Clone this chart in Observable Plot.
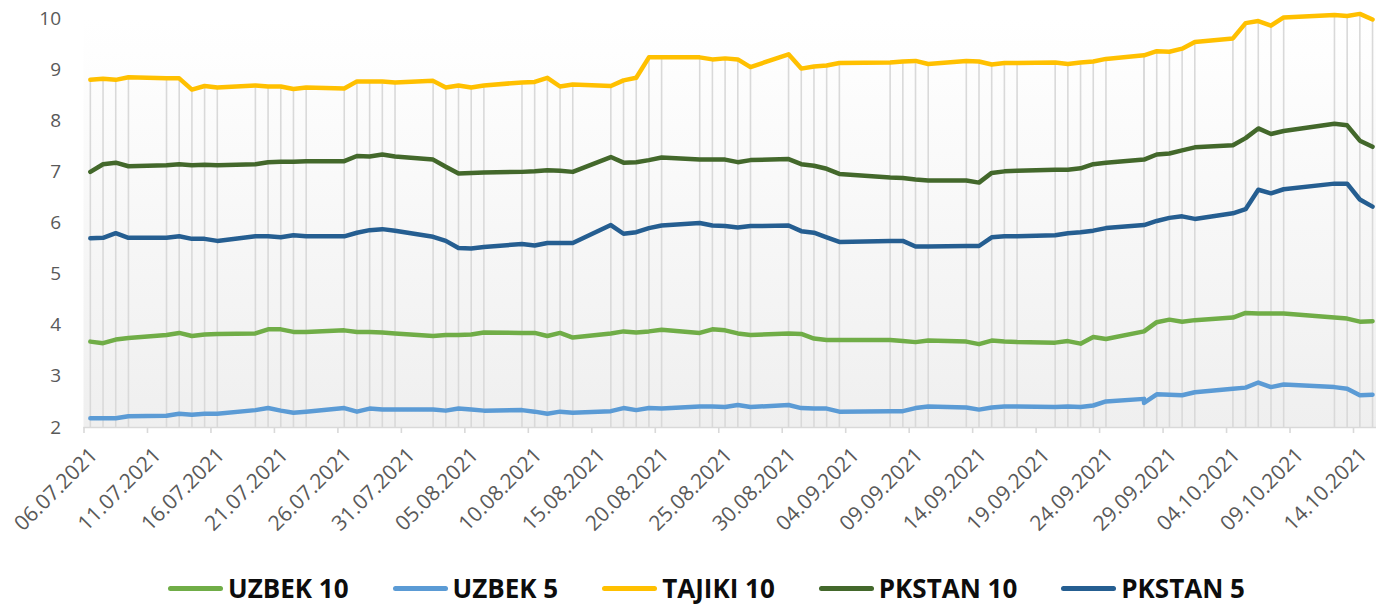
<!DOCTYPE html>
<html>
<head>
<meta charset="utf-8">
<script src="https://cdn.jsdelivr.net/npm/d3@7"></script>
<script src="https://cdn.jsdelivr.net/npm/@observablehq/plot@0.6"></script>
<style>
  html, body { margin: 0; padding: 0; background: #ffffff; overflow: hidden; }
  #wrap { position: relative; width: 1376px; height: 604px; }
  #legend {
    position: absolute; top: 572px; left: 0; width: 1376px; height: 32px;
    display: flex; align-items: center; justify-content: center;
    padding-left: 37px; box-sizing: border-box;
    font-family: "Open Sans", sans-serif; font-weight: 700; font-size: 26px; color: #0d0d0d;
  }
  .item { display: flex; align-items: center; margin: 0 22px; }
  .sw { width: 55px; height: 5px; border-radius: 3px; margin-right: 5px; }
</style>
</head>
<body>
<div id="wrap">
  <div id="chart"></div>
  <div id="legend"></div>
</div>
<script>
// ---- Data ----
const dates = [
  "06.07.2021","07.07.2021","08.07.2021","09.07.2021",
  "12.07.2021","13.07.2021","14.07.2021","15.07.2021","16.07.2021",
  "19.07.2021","20.07.2021","21.07.2021","22.07.2021","23.07.2021",
  "26.07.2021","27.07.2021","28.07.2021","29.07.2021","30.07.2021",
  "02.08.2021","03.08.2021","04.08.2021","05.08.2021","06.08.2021",
  "09.08.2021","10.08.2021","11.08.2021","12.08.2021","13.08.2021",
  "16.08.2021","17.08.2021","18.08.2021","19.08.2021","20.08.2021",
  "23.08.2021","24.08.2021","25.08.2021","26.08.2021","27.08.2021",
  "30.08.2021","31.08.2021","01.09.2021","02.09.2021","03.09.2021",
  "07.09.2021","08.09.2021","09.09.2021","10.09.2021",
  "13.09.2021","14.09.2021","15.09.2021","16.09.2021","17.09.2021",
  "20.09.2021","21.09.2021","22.09.2021","23.09.2021","24.09.2021",
  "27.09.2021","27.09.2021","28.09.2021","29.09.2021","30.09.2021","01.10.2021",
  "04.10.2021","05.10.2021","06.10.2021","07.10.2021","08.10.2021",
  "12.10.2021","13.10.2021","14.10.2021","15.10.2021"
];

const uzbek10 = [
  3.68,3.65,3.72,3.75,
  3.81,3.85,3.79,3.82,3.83,
  3.84,3.92,3.92,3.87,3.87,
  3.90,3.87,3.87,3.86,3.84,
  3.79,3.81,3.81,3.82,3.86,
  3.85,3.85,3.79,3.85,3.76,
  3.84,3.88,3.86,3.88,3.91,
  3.85,3.92,3.90,3.84,3.81,
  3.84,3.83,3.74,3.71,3.71,
  3.71,3.69,3.67,3.70,
  3.68,3.63,3.70,3.68,3.67,
  3.66,3.69,3.64,3.77,3.73,
  3.88,3.88,4.06,4.11,4.07,4.10,
  4.15,4.24,4.23,4.23,4.23,
  4.15,4.13,4.07,4.08
];

const uzbek5 = [
  2.18,2.18,2.18,2.22,
  2.23,2.27,2.25,2.27,2.27,
  2.34,2.38,2.33,2.29,2.31,
  2.38,2.31,2.37,2.35,2.35,
  2.35,2.33,2.37,2.35,2.33,
  2.34,2.31,2.27,2.31,2.29,
  2.32,2.38,2.34,2.38,2.37,
  2.41,2.41,2.40,2.44,2.40,
  2.44,2.38,2.37,2.37,2.31,
  2.32,2.32,2.38,2.41,
  2.39,2.35,2.39,2.41,2.41,
  2.40,2.41,2.40,2.43,2.51,
  2.56,2.48,2.65,2.64,2.63,2.69,
  2.76,2.78,2.88,2.79,2.84,
  2.79,2.76,2.63,2.64
];

const tajiki10 = [
  8.80,8.82,8.80,8.85,
  8.83,8.83,8.61,8.68,8.65,
  8.69,8.67,8.67,8.62,8.65,
  8.63,8.77,8.77,8.77,8.75,
  8.78,8.65,8.69,8.65,8.69,
  8.75,8.76,8.84,8.67,8.71,
  8.68,8.79,8.84,9.24,9.24,
  9.24,9.20,9.22,9.20,9.05,
  9.30,9.02,9.06,9.08,9.13,
  9.14,9.16,9.17,9.11,
  9.17,9.16,9.10,9.13,9.13,
  9.14,9.11,9.14,9.16,9.21,
  9.28,9.28,9.36,9.35,9.41,9.54,
  9.61,9.91,9.95,9.86,10.02,
  10.07,10.05,10.09,9.98
];

const pkstan10 = [
  7.00,7.15,7.18,7.11,
  7.13,7.15,7.13,7.14,7.13,
  7.15,7.19,7.20,7.20,7.21,
  7.21,7.31,7.30,7.34,7.30,
  7.24,7.10,6.97,6.98,6.99,
  7.00,7.01,7.03,7.02,7.00,
  7.29,7.18,7.19,7.23,7.28,
  7.24,7.24,7.24,7.19,7.23,
  7.25,7.15,7.12,7.06,6.96,
  6.89,6.88,6.85,6.83,
  6.83,6.79,6.98,7.01,7.02,
  7.04,7.04,7.07,7.15,7.18,
  7.24,7.24,7.34,7.36,7.42,7.48,
  7.52,7.66,7.85,7.74,7.80,
  7.94,7.91,7.61,7.49
];

const pkstan5 = [
  5.70,5.71,5.80,5.71,
  5.71,5.74,5.69,5.69,5.65,
  5.74,5.74,5.72,5.76,5.74,
  5.74,5.81,5.86,5.88,5.85,
  5.73,5.65,5.51,5.50,5.53,
  5.59,5.56,5.61,5.61,5.61,
  5.96,5.79,5.82,5.90,5.95,
  6.00,5.95,5.94,5.91,5.94,
  5.95,5.84,5.81,5.72,5.63,
  5.65,5.65,5.54,5.54,
  5.55,5.55,5.72,5.74,5.74,
  5.76,5.80,5.82,5.85,5.90,
  5.96,5.96,6.04,6.10,6.13,6.08,
  6.19,6.27,6.65,6.58,6.66,
  6.77,6.77,6.46,6.32
];

const seriesNames = ["UZBEK 10", "UZBEK 5", "TAJIKI 10", "PKSTAN 10", "PKSTAN 5"];
const seriesColors = ["#70AD47", "#5B9BD5", "#FFC000", "#43682B", "#255E91"];
const seriesValues = [uzbek10, uzbek5, tajiki10, pkstan10, pkstan5];

const tickLabels = [
  "06.07.2021","11.07.2021","16.07.2021","21.07.2021","26.07.2021",
  "31.07.2021","05.08.2021","10.08.2021","15.08.2021","20.08.2021",
  "25.08.2021","30.08.2021","04.09.2021","09.09.2021","14.09.2021",
  "19.09.2021","24.09.2021","29.09.2021","04.10.2021","09.10.2021",
  "14.10.2021"
];
const yTicks = [2, 3, 4, 5, 6, 7, 8, 9, 10];

// ---- Build tables ----
const parse = (s, hour) => {
  const [d, m, y] = s.split(".").map(Number);
  return new Date(Date.UTC(y, m - 1, d, hour));
};
const rows = [];
seriesNames.forEach((name, k) => {
  dates.forEach((s, i) => rows.push({date: parse(s, 12), value: seriesValues[k][i], series: name}));
});
const drops = dates.map((s, i) => ({date: parse(s, 12), top: Math.max(...seriesValues.map(v => v[i]))}));
const tickDates = tickLabels.map(s => parse(s, 0));
const fmt = d3.utcFormat("%d.%m.%Y");

const W = 1376, H = 565;
const xStart = new Date(Date.UTC(2021, 6, 6)), xEnd = new Date(Date.UTC(2021, 9, 16));

// Background gradient of the plot area
function background(index, scales, values, dims) {
  const ns = "http://www.w3.org/2000/svg";
  const g = document.createElementNS(ns, "g");
  const defs = document.createElementNS(ns, "defs");
  const lg = document.createElementNS(ns, "linearGradient");
  lg.setAttribute("id", "bg-grad");
  lg.setAttribute("x1", "0"); lg.setAttribute("y1", "0");
  lg.setAttribute("x2", "0"); lg.setAttribute("y2", "1");
  [["0", "#ffffff"], ["0.08", "#fefefe"], ["1", "#efefef"]].forEach(([o, c]) => {
    const st = document.createElementNS(ns, "stop");
    st.setAttribute("offset", o); st.setAttribute("stop-color", c);
    lg.appendChild(st);
  });
  defs.appendChild(lg);
  g.appendChild(defs);
  const r = document.createElementNS(ns, "rect");
  const x0 = scales.x(xStart), x1 = Math.min(scales.x(xEnd), dims.width);
  const y0 = scales.y(10), y1 = scales.y(2);
  r.setAttribute("x", x0); r.setAttribute("y", y0);
  r.setAttribute("width", x1 - x0); r.setAttribute("height", y1 - y0);
  r.setAttribute("fill", "url(#bg-grad)");
  g.appendChild(r);
  return g;
}

const chart = Plot.plot({
  width: W,
  height: H,
  marginLeft: 83.5,
  marginRight: 0,
  marginTop: 18,
  marginBottom: H - 427,
  style: {fontFamily: "'Open Sans', sans-serif", color: "#595959", background: "transparent", overflow: "visible"},
  x: {type: "utc", domain: [xStart, xEnd], range: [83.5, 83.5 + 102 * 12.695]},
  y: {domain: [2, 10]},
  color: {domain: seriesNames, range: seriesColors},
  marks: [
    background,
    Plot.ruleX(drops, {x: "date", y1: 2, y2: "top", stroke: "#d9d9d9", strokeWidth: 1.6}),
    Plot.ruleY([2], {stroke: "#d9d9d9", strokeWidth: 1.6}),
    Plot.line(rows, {x: "date", y: "value", z: "series", stroke: "series", strokeWidth: 4.5, strokeLinejoin: "round", strokeLinecap: "round"}),
    Plot.axisY(yTicks, {tickSize: 0, tickPadding: 23, fontSize: 19, fill: "#595959", tickFormat: d => String(d)}),
    // tick marks only
    Plot.axisX(tickDates, {tickFormat: () => "", tickSize: 6, stroke: "#d9d9d9", strokeWidth: 1.6}),
    // rotated labels only
    Plot.axisX(tickDates, {tickFormat: fmt, tickRotate: -45, tickSize: 0, tickPadding: 24, dx: 10, fontSize: 21, fill: "#595959"})
  ]
});
document.getElementById("chart").appendChild(chart);

// Legend
const legend = document.getElementById("legend");
seriesNames.forEach((name, k) => {
  const it = document.createElement("div");
  it.className = "item";
  const sw = document.createElement("div");
  sw.className = "sw";
  sw.style.background = seriesColors[k];
  const tx = document.createElement("span");
  tx.textContent = name;
  it.appendChild(sw); it.appendChild(tx);
  legend.appendChild(it);
});
</script>
</body>
</html>
